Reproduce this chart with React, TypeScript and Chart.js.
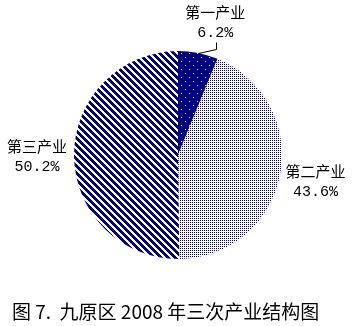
import React, { useEffect, useRef } from "react";
import { Chart, registerables } from "chart.js";

Chart.register(...registerables);

const categories = ["第一产业", "第二产业", "第三产业"];
const values = [6.2, 43.6, 50.2];
const valueLabels = ["6.2%", "43.6%", "50.2%"];
const titleText = "图 7.  九原区 2008 年三次产业结构图";

const NAVY = "#000080";

function makePattern(kind: string): CanvasPattern | string {
  const c = document.createElement("canvas");
  const size = kind === "stripe" ? 7 : kind === "dense" ? 2 : 8;
  c.width = size;
  c.height = size;
  const g = c.getContext("2d");
  if (!g) return NAVY;
  if (kind === "stripe") {
    g.fillStyle = "#ffffff";
    g.fillRect(0, 0, size, size);
    g.fillStyle = NAVY;
    for (let y = 0; y < size; y++)
      for (let x = 0; x < size; x++)
        if ((((x - y) % size) + size) % size < 4) g.fillRect(x, y, 1, 1);
  } else if (kind === "dense") {
    g.fillStyle = "#ffffff";
    g.fillRect(0, 0, size, size);
    g.fillStyle = NAVY;
    g.fillRect(0, 0, 1, 1);
  } else {
    g.fillStyle = NAVY;
    g.fillRect(0, 0, size, size);
    g.fillStyle = "#ffffff";
    g.fillRect(1, 1, 1, 1);
    g.fillRect(5, 5, 1, 1);
  }
  const p = g.createPattern(c, "repeat");
  return p || NAVY;
}

const labelDist = [34, 36, 37];

const labelPlugin = {
  id: "sliceLabels",
  afterDraw(chart: any) {
    const ctx = chart.ctx as CanvasRenderingContext2D;
    const meta = chart.getDatasetMeta(0);
    ctx.save();
    ctx.fillStyle = "#000";
    ctx.strokeStyle = "#000";
    ctx.lineWidth = 1;
    meta.data.forEach((arc: any, i: number) => {
      const { x, y, startAngle, endAngle, outerRadius } = arc.getProps(
        ["x", "y", "startAngle", "endAngle", "outerRadius"],
        true
      );
      const mid = (startAngle + endAngle) / 2;
      const dx = Math.cos(mid);
      const dy = Math.sin(mid);
      let lx = x + dx * (outerRadius + labelDist[i]);
      let ly = y + dy * (outerRadius + labelDist[i]);
      if (i === 0) {
        const ex = x + dx * outerRadius;
        const ey = y + dy * outerRadius;
        lx = ex + 17;
        ly = ey - 31;
        ctx.beginPath();
        ctx.moveTo(Math.round(ex) + 0.5, Math.round(ey) + 0.5);
        ctx.lineTo(Math.round(ex + 18) + 0.5, Math.round(ey - 4) + 0.5);
        ctx.lineTo(Math.round(ex + 18) + 0.5, Math.round(ey - 11) + 0.5);
        ctx.stroke();
      }
      ctx.textAlign = "center";
      ctx.textBaseline = "middle";
      ctx.font = '15px "Noto Sans CJK SC", sans-serif';
      ctx.fillText(categories[i], lx, ly - 10);
      ctx.font = '15px "Liberation Mono", "DejaVu Sans Mono", monospace';
      ctx.fillText(valueLabels[i], lx, ly + 11);
    });
    ctx.textAlign = "left";
    ctx.textBaseline = "middle";
    ctx.font = '19px "Noto Sans CJK SC", "Noto Sans", sans-serif';
    ctx.fillText(titleText, 12, 312);
    ctx.restore();
  },
};

export default function App() {
  const ref = useRef<HTMLCanvasElement | null>(null);
  useEffect(() => {
    if (!ref.current) return;
    const chart = new Chart(ref.current, {
      type: "pie",
      data: {
        labels: categories,
        datasets: [
          {
            data: values,
            backgroundColor: [
              makePattern("sparse"),
              makePattern("dense"),
              makePattern("stripe"),
            ] as any,
            borderWidth: 0,
          },
        ],
      },
      options: {
        responsive: false,
        animation: false,
        layout: { padding: { left: 74, right: 71, top: 51, bottom: 67 } },
        plugins: {
          legend: { display: false },
          tooltip: { enabled: false },
          title: { display: false },
        },
      },
      plugins: [labelPlugin],
    });
    return () => chart.destroy();
  }, []);
  return (
    <div style={{ position: "fixed", left: 0, top: 0, width: 353, height: 326, background: "#fff" }}>
      <canvas ref={ref} width={353} height={326} style={{ width: 353, height: 326, display: "block" }} />
    </div>
  );
}
